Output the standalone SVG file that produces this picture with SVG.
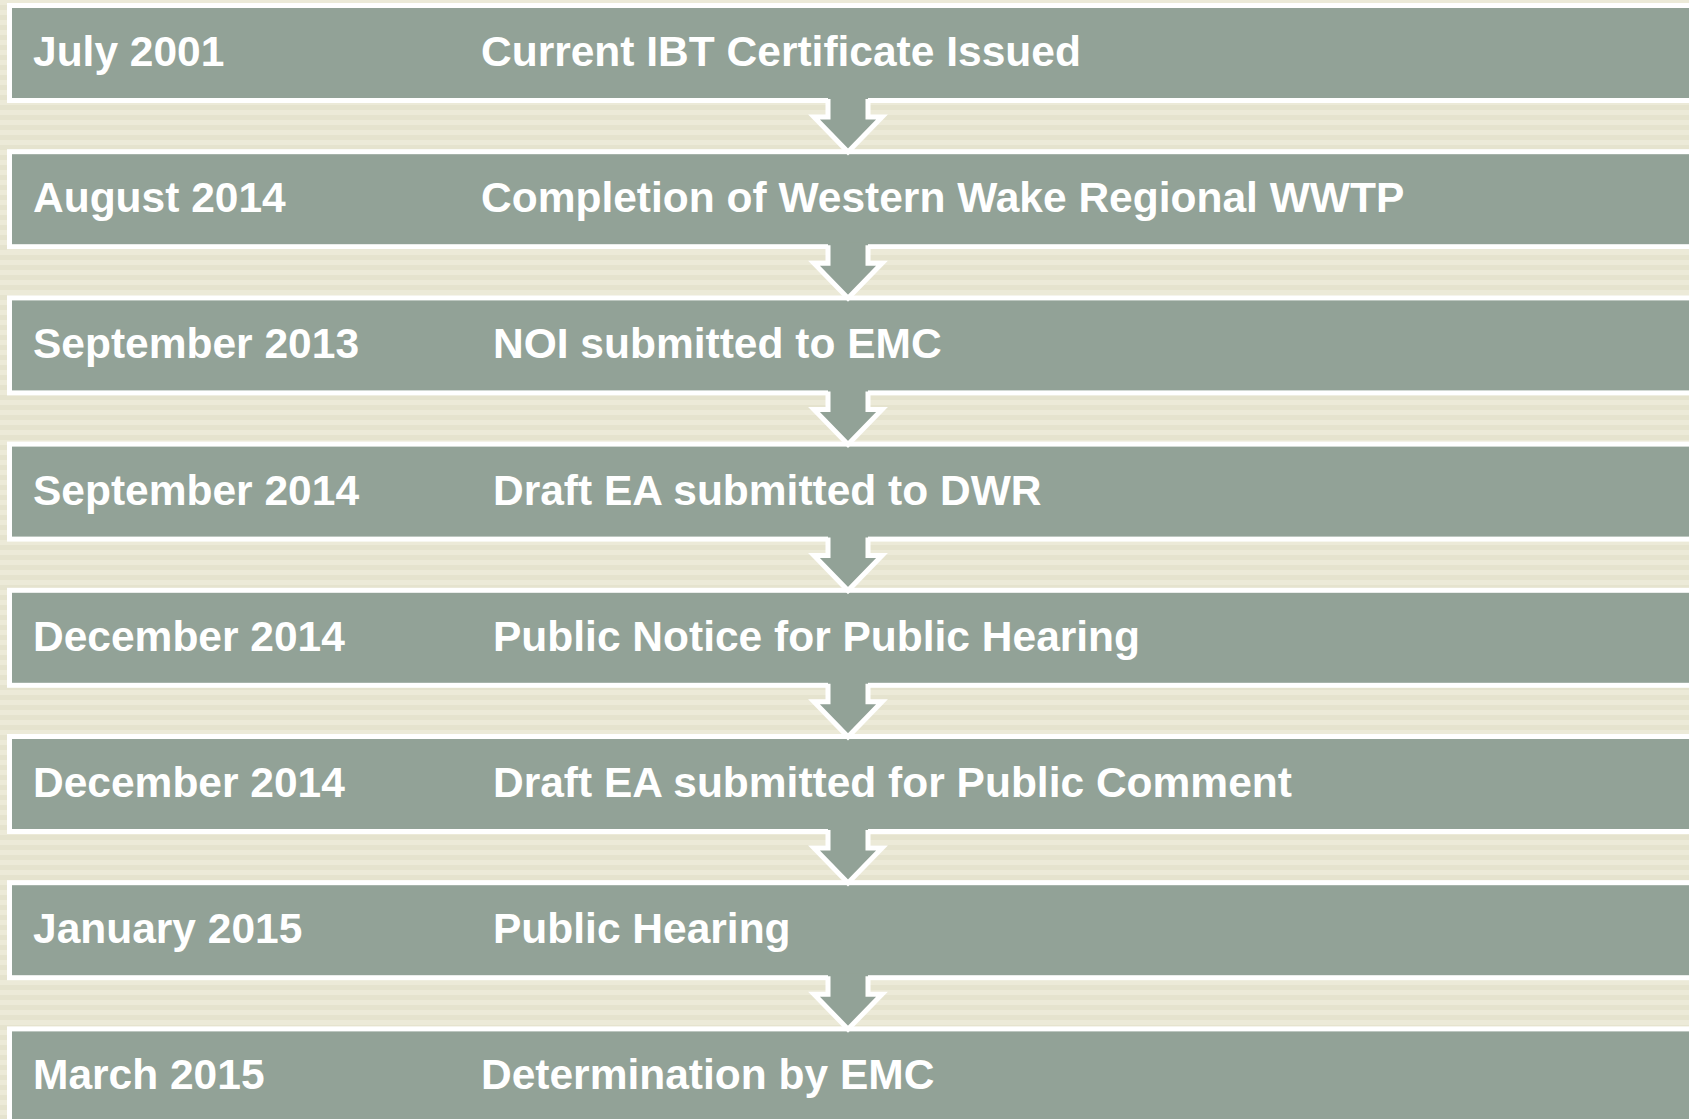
<svg xmlns="http://www.w3.org/2000/svg" width="1689" height="1119" viewBox="0 0 1689 1119">
<defs>
<pattern id="stripes" x="0" y="0" width="20" height="10" patternUnits="userSpaceOnUse">
<rect width="20" height="10" fill="#ECEAD8"/>
<rect y="5" width="20" height="5" fill="#E5E3CE"/>
</pattern>
<path id="arrowFill" d="M828,96 V117 H814 L848,152 L882,117 H868 V96 Z"/>
<path id="arrowEdge" d="M828,99 V117 H814 L848,152 L882,117 H868 V99"/>
</defs>
<style>
.box{fill:#92A297;stroke:#FFFFFF;stroke-width:5}
.date,.desc{font-family:"Liberation Sans",Arial,sans-serif;font-weight:bold;font-size:42.5px;fill:#FFFFFF}
.af{fill:#92A297}
.ae{fill:none;stroke:#FFFFFF;stroke-width:5;stroke-linejoin:miter}
</style>
<rect width="1689" height="1119" fill="url(#stripes)"/>
<g id="node1"><rect class="box" x="9.5" y="5.5" width="1690" height="95"/><text class="date" x="33" y="66">July 2001</text><text class="desc" x="481" y="66">Current IBT Certificate Issued</text></g>
<g id="node2"><rect class="box" x="9.5" y="151.7" width="1690" height="95"/><text class="date" x="33" y="212.2">August 2014</text><text class="desc" x="481" y="212.2">Completion of Western Wake Regional WWTP</text></g>
<g id="node3"><rect class="box" x="9.5" y="297.9" width="1690" height="95"/><text class="date" x="33" y="358.4">September 2013</text><text class="desc" x="493" y="358.4">NOI submitted to EMC</text></g>
<g id="node4"><rect class="box" x="9.5" y="444.1" width="1690" height="95"/><text class="date" x="33" y="504.6">September 2014</text><text class="desc" x="493" y="504.6">Draft EA submitted to DWR</text></g>
<g id="node5"><rect class="box" x="9.5" y="590.3" width="1690" height="95"/><text class="date" x="33" y="650.8">December 2014</text><text class="desc" x="493" y="650.8">Public Notice for Public Hearing</text></g>
<g id="node6"><rect class="box" x="9.5" y="736.5" width="1690" height="95"/><text class="date" x="33" y="797">December 2014</text><text class="desc" x="493" y="797">Draft EA submitted for Public Comment</text></g>
<g id="node7"><rect class="box" x="9.5" y="882.7" width="1690" height="95"/><text class="date" x="33" y="943.2">January 2015</text><text class="desc" x="493" y="943.2">Public Hearing</text></g>
<g id="node8"><rect class="box" x="9.5" y="1028.9" width="1690" height="95"/><text class="date" x="33" y="1089.4">March 2015</text><text class="desc" x="481" y="1089.4">Determination by EMC</text></g>
<g id="connectors">
<g transform="translate(0,0)"><use href="#arrowFill" class="af"/><use href="#arrowEdge" class="ae"/></g>
<g transform="translate(0,146.2)"><use href="#arrowFill" class="af"/><use href="#arrowEdge" class="ae"/></g>
<g transform="translate(0,292.4)"><use href="#arrowFill" class="af"/><use href="#arrowEdge" class="ae"/></g>
<g transform="translate(0,438.6)"><use href="#arrowFill" class="af"/><use href="#arrowEdge" class="ae"/></g>
<g transform="translate(0,584.8)"><use href="#arrowFill" class="af"/><use href="#arrowEdge" class="ae"/></g>
<g transform="translate(0,731)"><use href="#arrowFill" class="af"/><use href="#arrowEdge" class="ae"/></g>
<g transform="translate(0,877.2)"><use href="#arrowFill" class="af"/><use href="#arrowEdge" class="ae"/></g>
</g>
</svg>
